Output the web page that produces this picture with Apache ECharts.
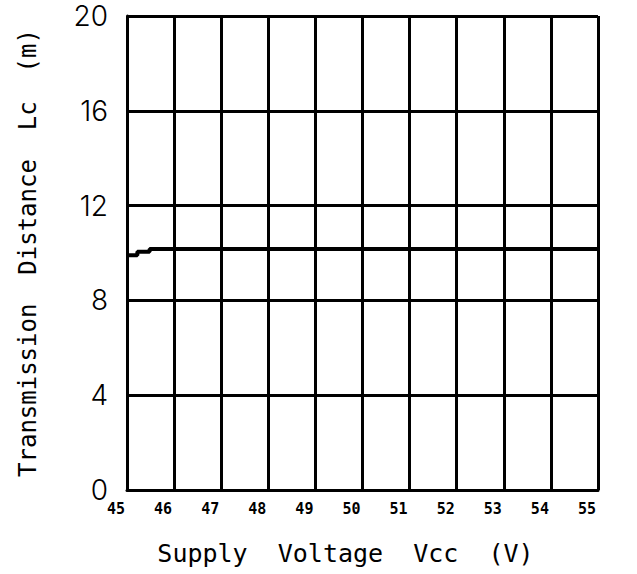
<!DOCTYPE html>
<html>
<head>
<meta charset="utf-8">
<script src="https://cdn.jsdelivr.net/npm/echarts@6/dist/echarts.min.js"></script>
<style>
	html, body { margin: 0; padding: 0; background: #fff; }
	#main { width: 637px; height: 574px; }
</style>
</head>
<body>
<div id="main"></div>
<script>
// supply voltage in tenths of a volt (45 = 4.5 V), as printed on the axis
const voltage = [45, 45.22, 45.48, 55];
// transmission distance Lc (m)
const distance = [9.9, 10.05, 10.17, 10.17];
const xTicks = [45, 46, 47, 48, 49, 50, 51, 52, 53, 54, 55];
const yTicks = [0, 4, 8, 12, 16, 20];

const myChart = echarts.init(document.getElementById('main'), null, { renderer: 'svg' });

const option = {
	animation: false,
	backgroundColor: '#fff',
	grid: { left: 127, right: 39, top: 16, bottom: 84 },
	xAxis: {
		type: 'value',
		min: xTicks[0],
		max: xTicks[xTicks.length - 1],
		interval: 1,
		name: 'Supply  Voltage  Vcc  (V)',
		nameLocation: 'middle',
		nameGap: 51,
		nameTextStyle: { fontFamily: 'DejaVu Sans Mono', fontSize: 25, color: '#000', padding: [0, 34, 0, 0] },
		axisLine: { show: true, lineStyle: { color: '#000', width: 3 } },
		axisTick: { show: false },
		axisLabel: { color: '#000', fontFamily: 'DejaVu Sans Mono', fontWeight: 'bold', fontSize: 15, margin: 11, padding: [0, 22, 0, 0] },
		splitLine: { show: true, lineStyle: { color: '#000', width: 3 } }
	},
	yAxis: {
		type: 'value',
		min: yTicks[0],
		max: yTicks[yTicks.length - 1],
		interval: 4,
		name: 'Transmission  Distance  Lc  (m)',
		nameLocation: 'middle',
		nameGap: 87,
		nameTextStyle: { fontFamily: 'DejaVu Sans Mono', fontSize: 24, color: '#000' },
		axisLine: { show: true, lineStyle: { color: '#000', width: 3 } },
		axisTick: { show: false },
		axisLabel: { color: '#000', fontFamily: 'Inter', fontWeight: 300, fontSize: 28, margin: 19 },
		splitLine: { show: true, lineStyle: { color: '#000', width: 3 } }
	},
	series: [
		{
			type: 'line',
			step: 'end',
			data: voltage.map((v, i) => [v, distance[i]]),
			symbol: 'none',
			lineStyle: { color: '#000', width: 4 }
		}
	]
};

myChart.setOption(option);
</script>
</body>
</html>
